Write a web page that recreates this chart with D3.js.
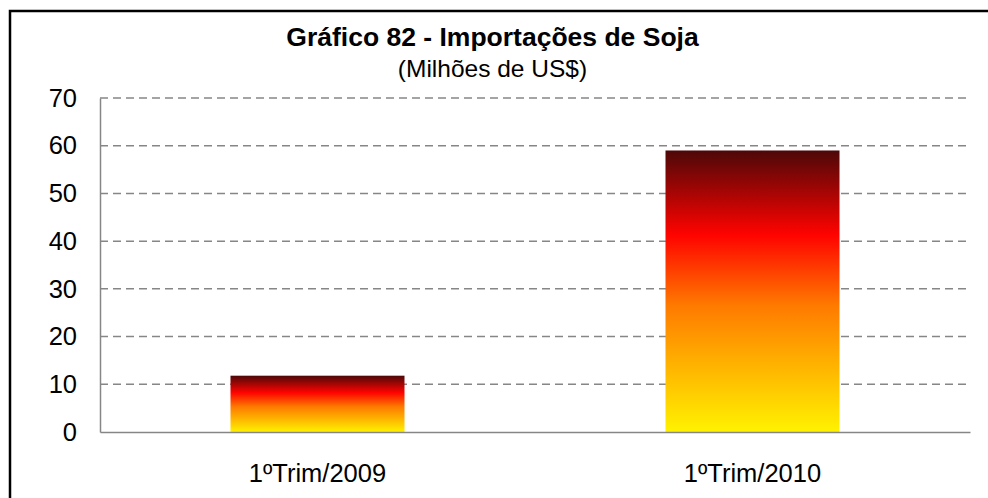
<!DOCTYPE html>
<html>
<head>
<meta charset="utf-8">
<script src="https://cdn.jsdelivr.net/npm/d3@7/dist/d3.min.js"></script>
<style>
  html, body { margin: 0; padding: 0; background: #fff; }
  svg { display: block; font-family: "Liberation Sans", Arial, sans-serif; }
</style>
</head>
<body>
<script>
// Soybean imports, first quarter (US$ millions)
const categories = ["1ºTrim/2009", "1ºTrim/2010"];
const values = [11.8, 59];
const yTicks = [0, 10, 20, 30, 40, 50, 60, 70];
const titleText = "Gráfico 82 - Importações de Soja";
const subtitleText = "(Milhões de US$)";

const W = 988, H = 498;
const plot = { left: 100, right: 970, top: 98, bottom: 432 };

const svg = d3.select("body").append("svg")
  .attr("width", W).attr("height", H);

// Fire-style vertical gradient: yellow at the base, dark red at the top
const defs = svg.append("defs");
const grad = defs.append("linearGradient")
  .attr("id", "fire")
  .attr("x1", 0).attr("y1", 1).attr("x2", 0).attr("y2", 0);
[
  [0, "#fff200"],
  [0.45, "#ff7a00"],
  [0.70, "#ff0300"],
  [1, "#4d0808"]
].forEach(([o, c]) => grad.append("stop").attr("offset", o).attr("stop-color", c));

// Outer frame
svg.append("rect")
  .attr("x", 10).attr("y", 11)
  .attr("width", W + 20).attr("height", H + 20)
  .attr("fill", "none").attr("stroke", "#000").attr("stroke-width", 2.5);

const x = d3.scaleBand()
  .domain(categories)
  .range([plot.left, plot.right])
  .paddingInner(0.6).paddingOuter(0.3);

const y = d3.scaleLinear()
  .domain([0, 70])
  .range([plot.bottom, plot.top]);

// Dashed horizontal gridlines
svg.append("g")
  .selectAll("line")
  .data(yTicks.filter(d => d > 0))
  .join("line")
  .attr("x1", plot.left).attr("x2", plot.right)
  .attr("y1", d => y(d)).attr("y2", d => y(d))
  .attr("stroke", "#868686").attr("stroke-width", 1.5)
  .attr("stroke-dasharray", "8,5");

// Bars
svg.append("g")
  .selectAll("rect")
  .data(values)
  .join("rect")
  .attr("x", (d, i) => x(categories[i]))
  .attr("width", x.bandwidth())
  .attr("y", d => y(d))
  .attr("height", d => y(0) - y(d))
  .attr("fill", "url(#fire)");

// Y axis
const yAxis = svg.append("g")
  .attr("transform", `translate(${plot.left},0)`)
  .call(d3.axisLeft(y).tickValues(yTicks).tickSize(0).tickPadding(23));
yAxis.select(".domain").attr("stroke", "#868686").attr("stroke-width", 1.5);
yAxis.selectAll("text")
  .attr("font-size", 25.5).attr("fill", "#000")
  .attr("font-family", "Liberation Sans, Arial, sans-serif");

// X axis
const xAxis = svg.append("g")
  .attr("transform", `translate(0,${plot.bottom})`)
  .call(d3.axisBottom(x).tickSize(0).tickPadding(31.5));
xAxis.select(".domain").attr("stroke", "#868686").attr("stroke-width", 1.5);
xAxis.selectAll("text")
  .attr("font-size", 25.5).attr("fill", "#000")
  .attr("font-family", "Liberation Sans, Arial, sans-serif");

// Titles
svg.append("text")
  .attr("x", 492.5).attr("y", 46)
  .attr("text-anchor", "middle")
  .attr("font-size", 26.5).attr("font-weight", "bold")
  .text(titleText);

svg.append("text")
  .attr("x", 492.5).attr("y", 77)
  .attr("text-anchor", "middle")
  .attr("font-size", 24.5)
  .text(subtitleText);
</script>
</body>
</html>
